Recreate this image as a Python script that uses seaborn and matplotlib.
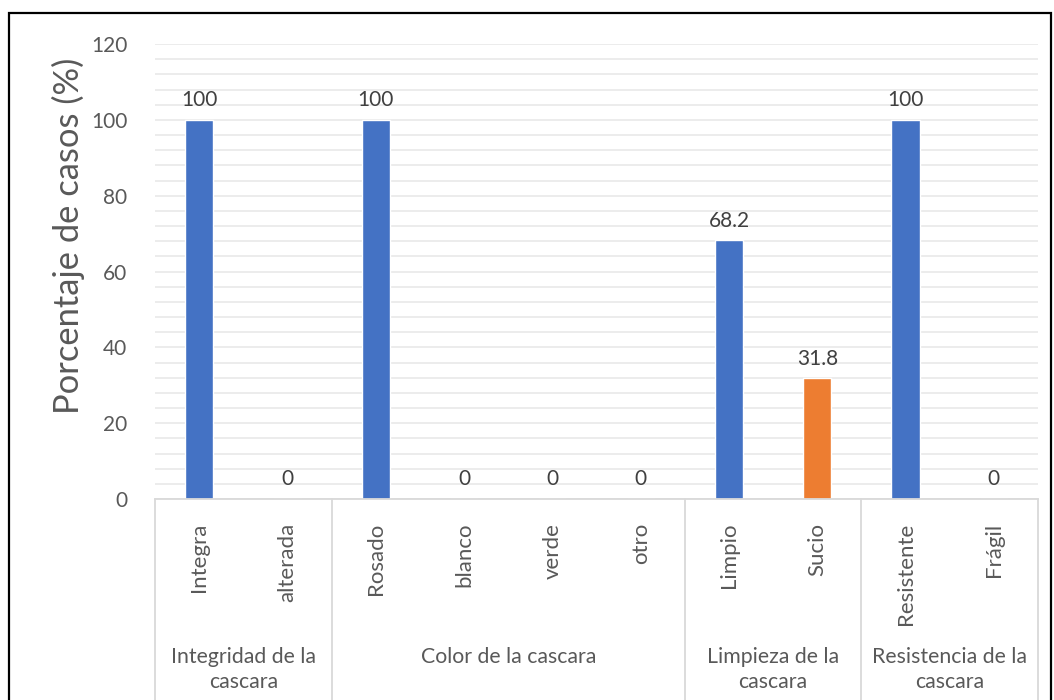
import matplotlib
matplotlib.use("Agg")
import matplotlib.pyplot as plt
from matplotlib.patches import Rectangle
from matplotlib.lines import Line2D
import seaborn as sns
import pandas as pd
import numpy as np

# Data
subcategories = ["Integra", "alterada", "Rosado", "blanco", "verde", "otro",
                 "Limpio", "Sucio", "Resistente", "Frágil"]
values = [100, 0, 100, 0, 0, 0, 68.2, 31.8, 100, 0]
groups = ["Integridad de la\ncascara", "Color de la cascara",
          "Limpieza de la\ncascara", "Resistencia de la\ncascara"]
group_sizes = [2, 4, 2, 2]
bar_colors = ["#4472C4", "#4472C4", "#4472C4", "#4472C4", "#4472C4", "#4472C4",
              "#4472C4", "#ED7D31", "#4472C4", "#4472C4"]
y_label = "Porcentaje de casos (%)"

sns.set_style("white")
plt.rcParams["font.family"] = ["Lato", "DejaVu Sans"]

text_col = "#595959"
grid_col = "#ebebeb"
axis_col = "#d9d9d9"

df = pd.DataFrame({"cat": subcategories, "val": values})

fig = plt.figure(figsize=(10.54, 7.0), dpi=100)
ax = fig.add_axes([155 / 1054, 1 - 499 / 700, (1038 - 155) / 1054, (499 - 44) / 700])

sns.barplot(data=df, x="cat", y="val", hue="cat", palette=bar_colors,
            legend=False, width=0.32, ax=ax, saturation=1)

ax.set_xlim(-0.5, len(subcategories) - 0.5)
ax.set_ylim(0, 120)
ax.set_yticks(np.arange(0, 121, 20))
ax.set_yticks(np.arange(0, 121, 4), minor=True)
ax.grid(True, which="both", axis="y", color=grid_col, linewidth=1.3)
ax.set_axisbelow(True)
for s in ["top", "right", "left"]:
    ax.spines[s].set_visible(False)
ax.spines["bottom"].set_color(axis_col)
ax.spines["bottom"].set_linewidth(1.3)
ax.tick_params(axis="y", which="both", length=0, labelsize=15, labelcolor=text_col, pad=20)
ax.tick_params(axis="x", length=0)
ax.set_xticks([])
ax.set_xlabel("")
ax.set_ylabel("")

# Axis title, placed in the upper part of the chart area
fig.text(68 / 1054, 1 - 236 / 700, y_label, rotation=90, ha="center", va="center",
         fontsize=24.8, color=text_col)

# Value labels above bars
for container in ax.containers:
    ax.bar_label(container, fmt="%g", padding=7, fontsize=15, color="#404040")

# Multi-level category axis
trans = ax.get_xaxis_transform()
for i, name in enumerate(subcategories):
    ax.text(i, -0.052, name, rotation=90, ha="center", va="top",
            fontsize=16, color=text_col, transform=trans, clip_on=False)

edges = np.concatenate([[0], np.cumsum(group_sizes)]) - 0.5
for e in edges:
    ax.add_line(Line2D([e, e], [0, -0.45], transform=trans, color=axis_col,
                       linewidth=1.3, clip_on=False))
for g, lo, hi in zip(groups, edges[:-1], edges[1:]):
    ax.text((lo + hi) / 2, -0.325, g, ha="center", va="top", fontsize=15.3,
            color=text_col, transform=trans, clip_on=False, linespacing=1.35)

# Chart frame
fig.add_artist(Rectangle((9 / 1054, -0.05), (1051 - 9) / 1054, 1.05 - 13 / 700,
                         transform=fig.transFigure, fill=False,
                         edgecolor="black", linewidth=1.6))

fig.savefig("out.png", dpi=100)
